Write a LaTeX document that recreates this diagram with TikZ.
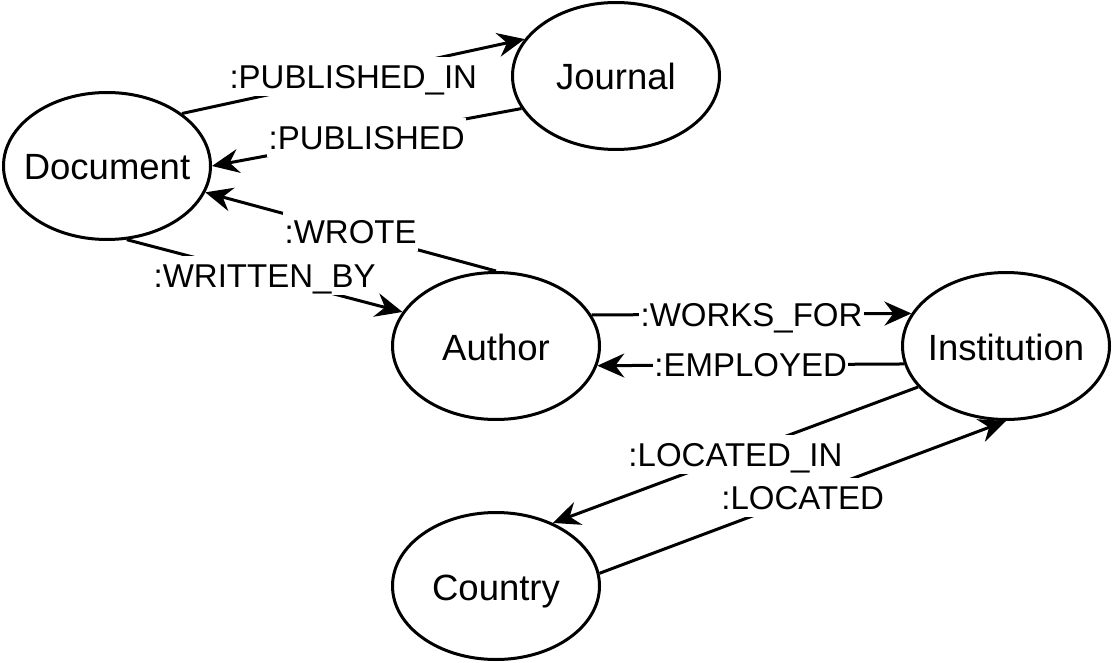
\documentclass[tikz,border=0pt]{standalone}
\usepackage{fontspec}
\setmainfont{Liberation Sans}
\usetikzlibrary{shapes.geometric, arrows.meta, positioning}

\begin{document}
\begin{tikzpicture}[
    x=1pt, y=-1pt,
    entity/.style={ellipse, draw, line width=3pt, fill=white, inner xsep=-50pt, inner ysep=0pt, text height=28pt, text depth=0pt, minimum width=207pt, minimum height=147pt, font=\fontsize{36.5pt}{43pt}\selectfont},
    rel/.style={-{Stealth[length=27pt, width=24pt, inset=9pt]}, line width=3pt},
    lbl/.style={fill=white, inner sep=1.5pt, text height=30pt, text depth=6pt, font=\fontsize{33pt}{39pt}\selectfont}
]
\useasboundingbox (0,0) rectangle (1113,663);

% Entities
\node[entity] (document) at (107,166) {Document};
\node[entity] (journal) [right=299pt of document, yshift=90pt] {Journal};
\node[entity] (author) [right=179pt of document, yshift=-180pt] {Author};
\node[entity] (institution) [right=300pt of author] {Institution};
\node[entity] (country) [below=90pt of author] {Country};

% Relations
\draw[rel] (document.35) -- (journal.158) node[midway, lbl] {:PUBLISHED\_IN};
\draw[rel] (journal.199) -- (document.0) node[midway, lbl] {:PUBLISHED};
\draw[rel] (author.90) -- (document.-15.4) node[midway, lbl] {:WROTE};
\draw[rel] (document.-75.4) -- (author.160) node[midway, lbl] {:WRITTEN\_BY};
\draw[rel] (author.18.6) -- (institution.161.4) node[midway, lbl] {:WORKS\_FOR};
\draw[rel] (institution.190) -- (author.-11.8) node[midway, lbl] {:EMPLOYED};
\draw[rel] (institution.205.3) -- (country.48.3) node[midway, lbl] {:LOCATED\_IN};
\draw[rel] (country.7.6) -- (institution.270) node[midway, lbl] {:LOCATED};

\end{tikzpicture}
\end{document}
